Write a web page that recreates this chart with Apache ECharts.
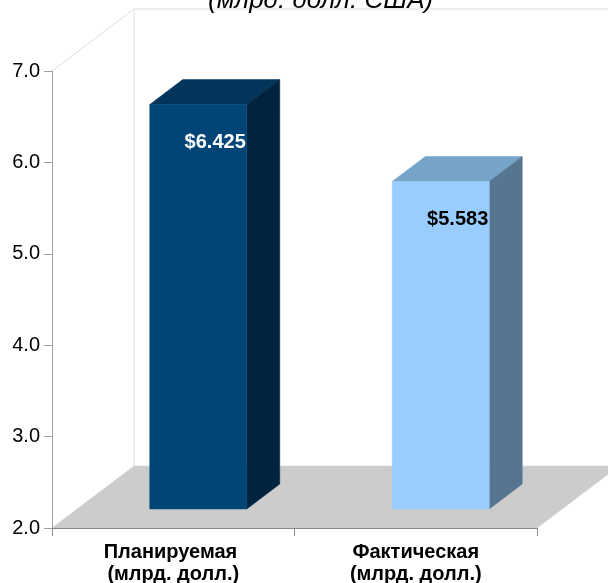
<!DOCTYPE html>
<html>
<head>
<meta charset="utf-8">
<style>html,body{margin:0;padding:0;background:#fff}#c{width:608px;height:583px}</style>
<script src="https://cdn.jsdelivr.net/npm/echarts@6/dist/echarts.min.js"></script>
</head>
<body>
<div id="c"></div>
<script>
const categories = ['Планируемая \n(млрд. долл.)', 'Фактическая\n(млрд. долл.)'];
const values = [6.425, 5.583];
const valueLabels = ['$6.425', '$5.583'];
const yMin = 2, yMax = 7, yStep = 1;
const subtitle = '(млрд. долл. США)';

const frontColors = ['#014576', '#99CCFF'];
const topColors = ['#03345A', '#76A3C8'];
const sideColors = ['#00233F', '#567591'];
const labelColors = ['#FFFFFF', '#000000'];
const FONT = '"Liberation Sans", Arial, Helvetica, sans-serif';

const DEPTH_X = 82, DEPTH_Y = 62;      // depth of the floor
const BAR_DX = 33, BAR_DY = 25;        // depth of a bar
const INSET_X = 25, INSET_Y = 19;      // bar's front plane offset into the floor
const BAR_W = 97;

function poly(points, fill, extra) {
  return Object.assign({
    type: 'polygon',
    shape: { points },
    style: { fill, stroke: fill, lineWidth: 0.5 }
  }, extra || {});
}
function line(x1, y1, x2, y2, z2) {
  return {
    type: 'line', z2: z2 || 0,
    shape: { x1, y1, x2, y2 },
    style: { stroke: '#DCDCDC', lineWidth: 1, fill: null }
  };
}

const chart = echarts.init(document.getElementById('c'), null, { renderer: 'canvas' });
chart.setOption({
  animation: false,
  backgroundColor: '#fff',
  title: {
    text: subtitle,
    left: 208,
    top: -12,
    padding: 0,
    textStyle: { fontFamily: FONT, fontSize: 26, fontStyle: 'italic', fontWeight: 'normal', color: '#000' }
  },
  grid: { left: 52, right: 71, top: 71, bottom: 55, outerBoundsMode: 'none' },
  xAxis: {
    type: 'category',
    data: categories,
    axisLine: { lineStyle: { color: '#8A8A8A', width: 1 } },
    axisTick: { show: true, alignWithLabel: false, length: 8, lineStyle: { color: '#8A8A8A', width: 1 } },
    axisLabel: { fontFamily: FONT, fontSize: 20, fontWeight: 'bold', color: '#000', margin: 13, lineHeight: 22, interval: 0 },
    z: 5
  },
  yAxis: {
    type: 'value',
    min: yMin, max: yMax, interval: yStep,
    axisLine: { show: true, lineStyle: { color: '#A0A0A0', width: 1 } },
    axisTick: { show: true, length: 8, lineStyle: { color: '#A0A0A0', width: 1 } },
    splitLine: { show: false },
    axisLabel: { fontFamily: FONT, fontSize: 20, color: '#000', margin: 12, formatter: v => v.toFixed(1) },
    z: 5
  },
  series: [
    {
      type: 'custom',
      coordinateSystem: 'cartesian2d',
      clip: false,
      silent: true,
      z: 1,
      data: [[0, yMin]],
      renderItem(params, api) {
        const band = api.size([1, 0])[0];
        const c0 = api.coord([0, yMin]);
        const x0 = c0[0] - band / 2, x1 = x0 + 2 * band;
        const yb = c0[1], yt = api.coord([0, yMax])[1];
        return {
          type: 'group',
          children: [
            line(x0, yt, x0 + DEPTH_X, yt - DEPTH_Y),
            line(x0 + DEPTH_X, yt - DEPTH_Y, x1 + DEPTH_X, yt - DEPTH_Y),
            line(x0 + DEPTH_X, yt - DEPTH_Y, x0 + DEPTH_X, yb - DEPTH_Y),
            poly([[x0, yb], [x1, yb], [x1 + DEPTH_X, yb - DEPTH_Y], [x0 + DEPTH_X, yb - DEPTH_Y]], '#CCCCCC', { z2: 1 })
          ]
        };
      }
    },
    {
      type: 'custom',
      coordinateSystem: 'cartesian2d',
      clip: false,
      silent: true,
      z: 3,
      data: values.map((v, i) => [i, v]),
      renderItem(params, api) {
        const i = api.value(0), v = api.value(1);
        const top = api.coord([i, v]), base = api.coord([i, yMin]);
        const xl = top[0] - BAR_W / 2 + INSET_X, xr = xl + BAR_W;
        const yt = top[1] - INSET_Y, yb = base[1] - INSET_Y;
        return {
          type: 'group',
          children: [
            poly([[xl, yt], [xr, yt], [xr + BAR_DX, yt - BAR_DY], [xl + BAR_DX, yt - BAR_DY]], topColors[i]),
            poly([[xr, yt], [xr + BAR_DX, yt - BAR_DY], [xr + BAR_DX, yb - BAR_DY], [xr, yb]], sideColors[i]),
            poly([[xl, yt], [xr, yt], [xr, yb], [xl, yb]], frontColors[i]),
            {
              type: 'text', z2: 5,
              style: {
                text: valueLabels[i], x: xr - 1, y: yt + 38,
                align: 'right', verticalAlign: 'middle',
                fontFamily: FONT, fontSize: 20, fontWeight: 'bold', fill: labelColors[i]
              }
            }
          ]
        };
      }
    }
  ]
});
</script>
</body>
</html>
